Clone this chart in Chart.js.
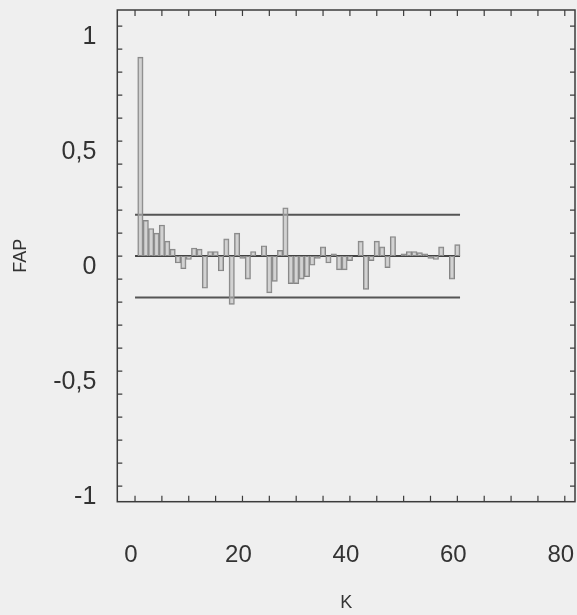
<!DOCTYPE html>
<html>
<head>
<meta charset="utf-8">
<script src="https://cdn.jsdelivr.net/npm/chart.js@4.4.1/dist/chart.umd.min.js"></script>
<style>
    body { margin: 0; background: #efefef; }
    canvas { display: block; }
</style>
</head>
<body>
<canvas id="grafico" width="577" height="615"></canvas>
<script>
// lags K = 1..60
const lags = [];
for (let k = 1; k <= 60; k++) lags.push(k);

// FAP values
const fap = [
    0.865, 0.155, 0.12, 0.10, 0.135, 0.065, 0.03, -0.03, -0.055, -0.015,
    0.035, 0.03, -0.14, 0.02, 0.02, -0.065, 0.075, -0.21, 0.10, -0.01,
    -0.10, 0.02, 0.0, 0.045, -0.16, -0.11, 0.025, 0.21, -0.12, -0.12,
    -0.10, -0.09, -0.04, -0.01, 0.04, -0.03, 0.01, -0.06, -0.06, -0.02,
    0.0, 0.065, -0.145, -0.02, 0.065, 0.04, -0.05, 0.085, 0.0, 0.01,
    0.02, 0.02, 0.015, 0.01, -0.01, -0.015, 0.04, 0.0, -0.10, 0.05
];

// confidence band and zero line
const limiteSup = 0.18;
const limiteInf = -0.18;
const linhaInicio = 0;
const linhaFim = 60.5;

const yTicks = [1, 0.5, 0, -0.5, -1];
const xTicks = [0, 20, 40, 60, 80];

const corTexto = '#333';
const corMoldura = '#3c3c3c';

function formatar(v) {
    return String(Math.round(v * 10) / 10).replace('.', ',');
}

// frame with inward ticks, like the original plot
const moldura = {
    id: 'moldura',
    beforeDraw(chart) {
        const ctx = chart.ctx;
        ctx.save();
        ctx.fillStyle = '#efefef';
        ctx.fillRect(0, 0, chart.width, chart.height);
        ctx.restore();
    },
    afterDraw(chart) {
        const ctx = chart.ctx;
        const a = chart.chartArea;
        const sx = chart.scales.x;
        const sy = chart.scales.y;
        ctx.save();
        ctx.strokeStyle = corMoldura;
        ctx.lineWidth = 1.5;
        ctx.strokeRect(a.left, a.top, a.right - a.left, a.bottom - a.top);
        ctx.lineWidth = 1.2;
        ctx.beginPath();
        for (let v = 0; v <= 80; v += 5) {
            const px = sx.getPixelForValue(v);
            ctx.moveTo(px, a.bottom); ctx.lineTo(px, a.bottom - 6);
            ctx.moveTo(px, a.top); ctx.lineTo(px, a.top + 6);
        }
        for (let i = -10; i <= 10; i++) {
            const py = sy.getPixelForValue(i / 10);
            ctx.moveTo(a.left, py); ctx.lineTo(a.left + 5, py);
            ctx.moveTo(a.right, py); ctx.lineTo(a.right - 5, py);
        }
        ctx.stroke();
        ctx.restore();
    }
};

function linha(valor, cor, largura) {
    return {
        type: 'line',
        data: [{x: linhaInicio, y: valor}, {x: linhaFim, y: valor}],
        borderColor: cor,
        borderWidth: largura,
        pointRadius: 0,
        fill: false
    };
}

new Chart(document.getElementById('grafico'), {
    type: 'bar',
    data: {
        datasets: [
            {
                label: 'FAP',
                data: lags.map((k, i) => ({x: k, y: fap[i]})),
                backgroundColor: 'rgba(185, 185, 185, 0.55)',
                borderColor: '#858585',
                borderWidth: 1,
                categoryPercentage: 1,
                barPercentage: 1
            },
            linha(limiteSup, '#555', 2),
            linha(limiteInf, '#555', 2),
            linha(0, '#444', 2)
        ]
    },
    options: {
        responsive: false,
        animation: false,
        layout: { padding: { top: 10, right: 2, left: 0, bottom: 0 } },
        plugins: {
            legend: { display: false },
            tooltip: { enabled: false }
        },
        scales: {
            x: {
                type: 'linear',
                offset: false,
                min: -3.3,
                max: 81.9,
                grid: { display: false, drawTicks: false, offset: false },
                border: { display: false },
                afterBuildTicks: (s) => { s.ticks = xTicks.map(v => ({value: v})); },
                ticks: {
                    padding: 39,
                    labelOffset: -4,
                    color: corTexto,
                    font: { family: 'Liberation Sans', size: 24 },
                    callback: (v) => formatar(v)
                },
                title: {
                    display: true,
                    text: 'K',
                    color: corTexto,
                    font: { family: 'Liberation Sans', size: 18 },
                    padding: { top: 0, bottom: 1 }
                },
                afterFit: (s) => {
                    s.height = 113.3;
                    s.paddingLeft = 0;
                    s.paddingRight = 0;
                }
            },
            y: {
                min: -1.068,
                max: 1.07,
                grid: { display: false, drawTicks: false },
                border: { display: false },
                afterBuildTicks: (s) => { s.ticks = yTicks.map(v => ({value: v})); },
                ticks: {
                    padding: 21,
                    labelOffset: 11,
                    color: corTexto,
                    font: { family: 'Liberation Sans', size: 25 },
                    callback: (v) => formatar(v)
                },
                title: {
                    display: true,
                    text: 'FAP',
                    color: corTexto,
                    font: { family: 'Liberation Sans', size: 18 },
                    padding: { top: 10, bottom: 0 }
                },
                afterFit: (s) => {
                    s.width = 117.3;
                    s.paddingTop = 0;
                    s.paddingBottom = 0;
                }
            }
        }
    },
    plugins: [moldura]
});
</script>
</body>
</html>
